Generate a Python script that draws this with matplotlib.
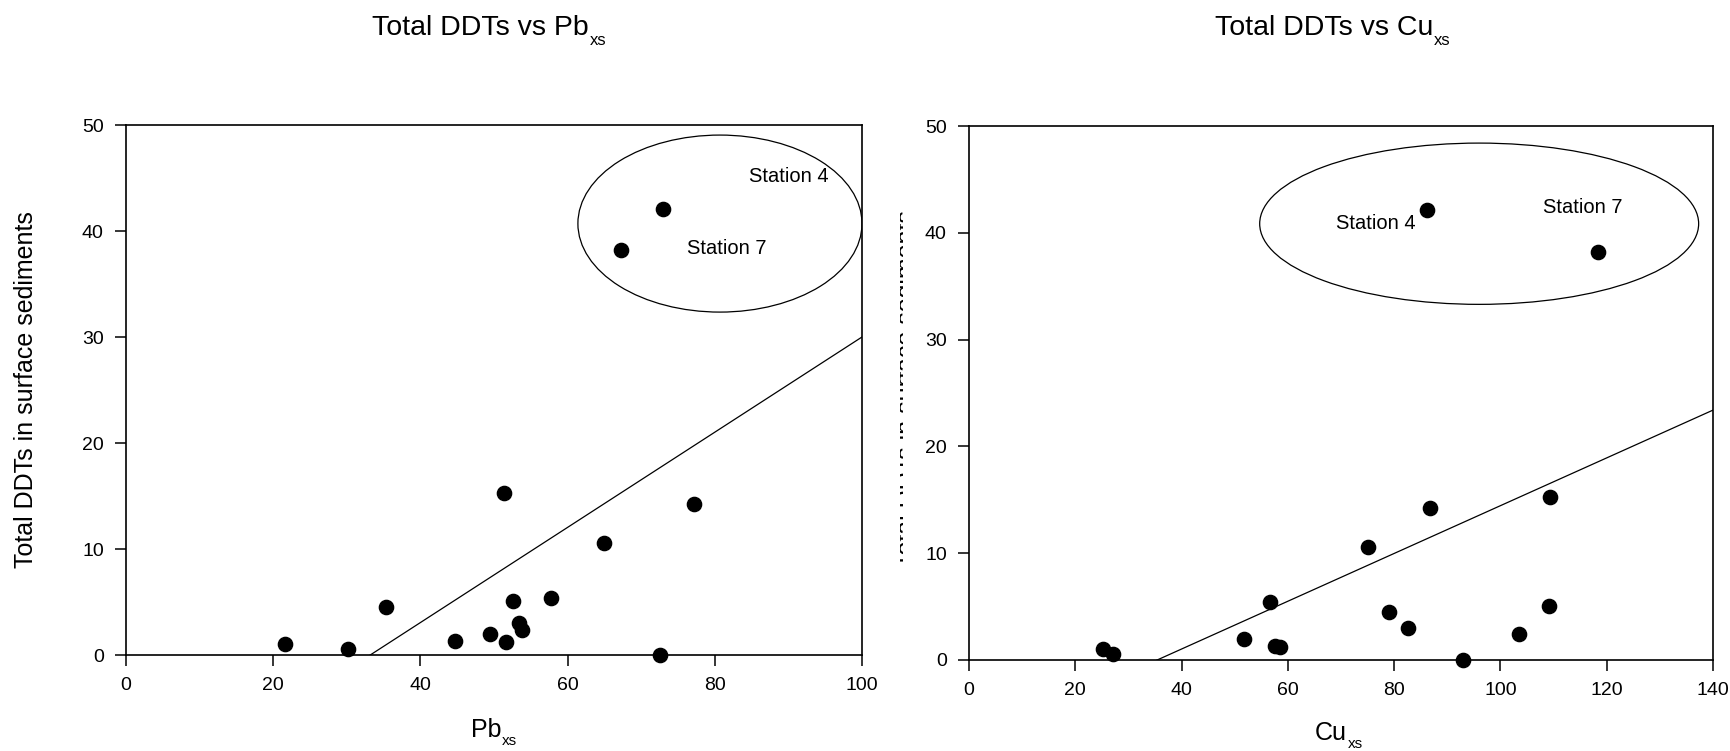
import matplotlib
matplotlib.use('Agg')
from matplotlib import pyplot as plt
from matplotlib.patches import Ellipse
from matplotlib.transforms import Bbox
import numpy as np

plt.rcParams['font.family'] = ['Liberation Sans', 'DejaVu Sans']

# total DDTs in surface sediments, one value per station
ddt = [0.0, 0.6, 1.0, 1.2, 1.35, 2.0, 2.4, 3.0, 4.5, 5.1, 5.4, 10.6, 14.2, 15.3, 38.2, 42.1]
pb_xs = [72.6, 30.1, 21.6, 51.6, 44.7, 49.5, 53.8, 53.4, 35.3, 52.6, 57.7, 65.0, 77.2, 51.4, 67.3, 73.0]
cu_xs = [92.9, 27.1, 25.2, 58.6, 57.6, 51.7, 103.5, 82.6, 79.1, 109.1, 56.7, 75.1, 86.8, 109.3, 118.3, 86.2]

# fitted lines (slope, intercept)
pb_fit = (0.449, -14.9)
cu_fit = (0.2237, -7.92)

W, H = 1730, 751
fig = plt.figure(figsize=(W/100, H/100), dpi=100)
ax1 = fig.add_axes([126/W, 1-655/H, (862-126)/W, (655-125)/H])
ax2 = fig.add_axes([969/W, 1-660/H, (1713-969)/W, (660-126)/H])

def style(ax, xmax):
    ax.set_xlim(0, xmax)
    ax.set_ylim(0, 50)
    ax.set_yticks(np.arange(0, 51, 10))
    ax.set_xticks(np.arange(0, xmax+1, 20))
    for s in ax.spines.values():
        s.set_linewidth(1.2)
    ax.tick_params(direction='out', length=8, width=1.1, labelsize=14, pad=8)

def sub_text(px, py, main, sub, size, subsize, drop):
    # main text starting at pixel (px, py) on its baseline, subscript hung after it
    t = fig.text(px/W, 1-py/H, main, fontsize=size, ha='left', va='baseline')
    plt.annotate(sub, xy=(1, 0), xycoords=t, xytext=(0.5, -drop), textcoords='offset points',
                 fontsize=subsize, ha='left', va='baseline')
    return t

# Pb panel
x = np.array([0, 100])
ax1.plot(x, pb_fit[0]*x + pb_fit[1], color='black', lw=0.9)
ax1.scatter(pb_xs, ddt, s=105, color='black', zorder=3, clip_on=False)
ax1.add_patch(Ellipse((80.7, 40.7), 38.6, 16.7, fill=False, lw=0.9, color='black'))
ax1.text(84.6, 44.65, 'Station 4', fontsize=14.5, ha='left', va='baseline')
ax1.text(76.2, 37.8, 'Station 7', fontsize=14.5, ha='left', va='baseline')
style(ax1, 100)

# Cu panel
x = np.array([0, 140])
ax2.plot(x, cu_fit[0]*x + cu_fit[1], color='black', lw=0.9)
ax2.scatter(cu_xs, ddt, s=105, color='black', zorder=3, clip_on=False)
ax2.add_patch(Ellipse((96.0, 40.85), 82.6, 15.1, fill=False, lw=0.9, color='black'))
ax2.text(69.0, 40.4, 'Station 4', fontsize=14.5, ha='left', va='baseline')
ax2.text(108.0, 41.9, 'Station 7', fontsize=14.5, ha='left', va='baseline')
style(ax2, 140)

sub_text(372, 35, 'Total DDTs vs Pb', 'xs', 20.5, 12, 3)
sub_text(1215, 35, 'Total DDTs vs Cu', 'xs', 20.5, 12, 3)
sub_text(471, 737, 'Pb', 'xs', 18, 11, 2)
sub_text(1315, 740, 'Cu', 'xs', 18, 11, 2)

ylab = 'Total DDTs in surface sediments'
fig.text(26/W, 1-390/H, ylab, fontsize=18, rotation=90, ha='center', va='center')
# second y label is mostly hidden, only a thin strip shows
t = fig.text(907/W, 1-389/H, ylab, fontsize=18, rotation=90, ha='center', va='center')
t.set_clip_box(Bbox.from_extents(900, 0, 903, H))
t.set_clip_on(True)

plt.savefig('out.png', dpi=100)
